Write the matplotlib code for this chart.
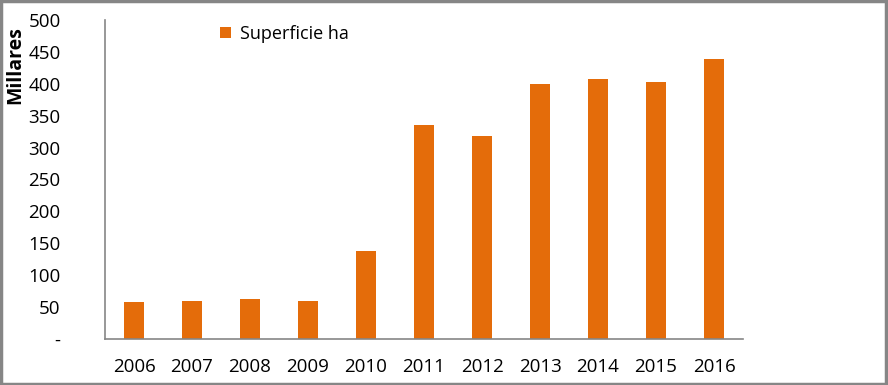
import numpy as np
import matplotlib.pyplot as plt
from matplotlib.patches import Rectangle

years = ["2006", "2007", "2008", "2009", "2010", "2011", "2012", "2013", "2014", "2015", "2016"]
superficie = [58, 60, 63, 60, 138, 335, 318, 400, 408, 403, 439]
yticks = [0, 50, 100, 150, 200, 250, 300, 350, 400, 450, 500]
ytick_labels = ["-", "50", "100", "150", "200", "250", "300", "350", "400", "450", "500"]

plt.rcParams['font.family'] = ['Open Sans', 'DejaVu Sans']

fig = plt.figure(figsize=(8.88, 3.85), dpi=100)
ax = fig.add_axes([105/888, 1 - 339/385, 638/888, 319/385])

x = np.arange(len(years))
ax.bar(x, superficie, width=0.33, color="#E46C0A", label="Superficie ha")

ax.set_xlim(-0.5, len(years) - 0.5)
ax.set_ylim(0, 500)
ax.set_xticks(x)
ax.set_xticklabels(years, fontsize=13.5)
ax.set_yticks(yticks)
ax.set_yticklabels(ytick_labels, fontsize=13.5)
ax.tick_params(axis="x", length=0, pad=14)
ax.tick_params(axis="y", length=0, pad=32)

for s in ["top", "right"]:
    ax.spines[s].set_visible(False)
for s in ["left", "bottom"]:
    ax.spines[s].set_color("#868686")
    ax.spines[s].set_linewidth(1.2)

ax.legend(loc="upper left", bbox_to_anchor=(0.155, 1.035), frameon=False, fontsize=13,
          handlelength=0.6, handleheight=0.6, handletextpad=0.5)

fig.text(15/888, 1 - 65/385, "Millares", rotation=90, fontsize=14, fontweight="bold",
         ha="center", va="center")

fig.patches.append(Rectangle((0.001, 0.002), 0.997, 0.995, transform=fig.transFigure,
                             fill=False, edgecolor="#868686", linewidth=2.5))

fig.savefig("out.png", dpi=100)
